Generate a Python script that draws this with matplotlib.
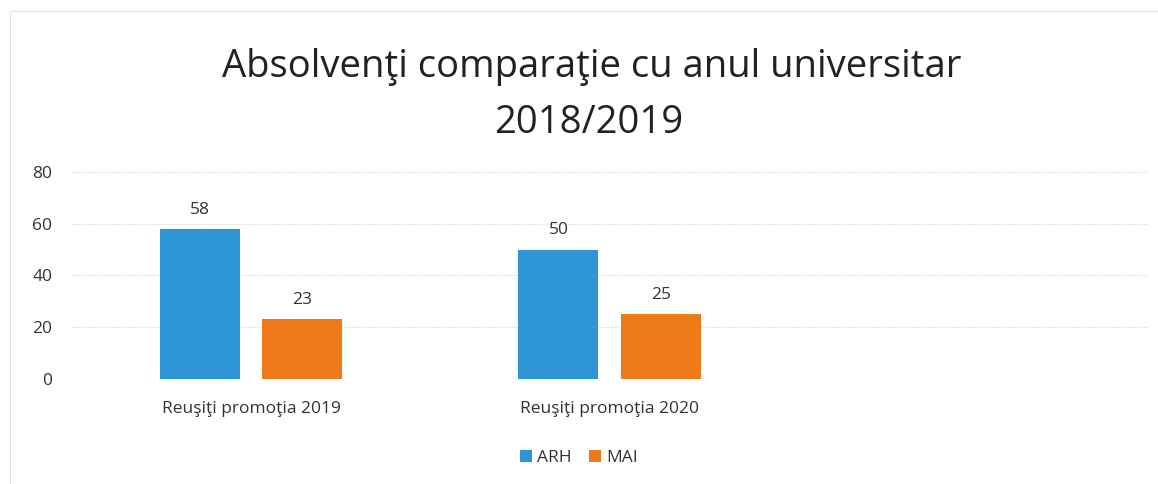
import numpy as np
import matplotlib.pyplot as plt
from matplotlib.patches import Rectangle

# date
categorii = ["Reuşiţi promoţia 2019", "Reuşiţi promoţia 2020", ""]
serii = ["ARH", "MAI"]
valori_arh = [58, 50, np.nan]
valori_mai = [23, 25, np.nan]
culori = ["#2E96D6", "#EE7A1A"]

plt.rcParams['font.family'] = ['Open Sans', 'DejaVu Sans']

fig = plt.figure(figsize=(11.58, 4.84), dpi=100)
ax = fig.add_axes([0.062, 0.217, 0.929, 0.428])

x = np.arange(len(categorii))
latime = 0.223
offset = 0.143

for valori, nume, culoare, dx in zip([valori_arh, valori_mai], serii, culori, [-offset, offset]):
    ax.bar(x + dx, valori, latime, color=culoare, label=nume, zorder=3)
    for xi, v in zip(x + dx, valori):
        if not np.isnan(v):
            ax.annotate(f"{v:g}", (xi, v), xytext=(0, 8), textcoords="offset points",
                        ha="center", va="bottom", fontsize=12.5, color="#333333")

ax.set_xlim(-0.5, len(categorii) - 0.5)
ax.set_ylim(0, 80)
ax.set_yticks([0, 20, 40, 60, 80])
ax.set_xticks(x)
ax.set_xticklabels(categorii, fontsize=12.5, color="#333333")
ax.tick_params(axis="y", labelsize=12.5, labelcolor="#333333", length=0, pad=14)
ax.tick_params(axis="x", length=0, pad=16)
ax.grid(axis="y", color="#D9D9D9", linewidth=0.8, linestyle=(0, (1, 1)), zorder=0)
for s in ax.spines.values():
    s.set_visible(False)

fig.text(0.511, 0.862, "Absolvenţi comparaţie cu anul universitar",
         ha="center", va="center", fontsize=27.5, color="#222222")
fig.text(0.508, 0.746, "2018/2019", ha="center", va="center", fontsize=27.5, color="#222222")

fig.legend(loc="center", bbox_to_anchor=(0.5, 0.054), ncol=2, frameon=False,
           fontsize=12.5, handlelength=0.7, handleheight=0.7, handletextpad=0.3,
           columnspacing=1.0, labelcolor="#333333")

fig.patches.append(Rectangle((0.009, -0.1), 1.2, 1.078, transform=fig.transFigure,
                             fill=False, edgecolor="#E3E3E3", linewidth=0.8))

fig.savefig("out.png", dpi=100, facecolor="white")
